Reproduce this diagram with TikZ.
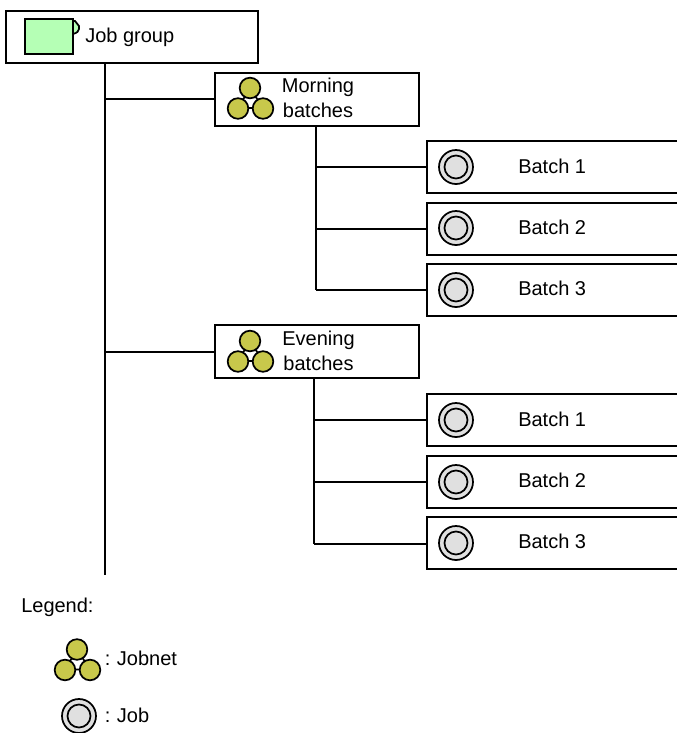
\documentclass[tikz,border=0pt]{standalone}
\usepackage{fontspec}
\setmainfont{Liberation Sans}
\definecolor{jobnetfill}{HTML}{C8C84B}
\definecolor{jobfill}{HTML}{E0E0E0}
\definecolor{groupfill}{HTML}{B5FFB5}
\tikzset{
  x=0.75pt,y=-0.75pt,
  every node/.style={font=\fontsize{15}{18.75}\selectfont,text=black,inner sep=0pt},
  treebox/.style={draw=black,line width=1.5pt,fill=white,rectangle,anchor=north west,outer sep=0pt},
  wire/.style={draw=black,line width=1.5pt},
  iconline/.style={draw=black,line width=1.3pt},
  pics/jobnet/.style={code={
    \draw[iconline] (0,0) -- (-12,20) -- (13,20) -- cycle;
    \draw[iconline,fill=jobnetfill] (0,0) circle[radius=10.3];
    \draw[iconline,fill=jobnetfill] (-12,20.5) circle[radius=10.3];
    \draw[iconline,fill=jobnetfill] (13,20.5) circle[radius=10.3];
  }},
  pics/job/.style={code={
    \draw[iconline,fill=jobfill] (0,0) circle[radius=17];
    \draw[iconline,fill=jobfill] (0,0) circle[radius=11.5];
  }},
}
\begin{document}
\begin{tikzpicture}
\useasboundingbox (0,0) rectangle (676,733);
% boxes
\node[treebox,minimum width=252.5*0.75pt,minimum height=52*0.75pt] (jg) at (5.5,10.5) {};
\node[treebox,minimum width=204*0.75pt,minimum height=53*0.75pt] (mb) at (214.5,72.5) {};
\node[treebox,minimum width=204*0.75pt,minimum height=53*0.75pt] (eb) at (214.5,325) {};
\foreach \n/\t/\h in {m1/140.5/52.5,m2/202.5/52,m3/263.5/52.5,e1/393.5/52.5,e2/455.5/52,e3/516.5/52.5}{
  \node[treebox,minimum width=256*0.75pt,minimum height=\h*0.75pt] (\n) at (426.5,\t) {};
}
% connector anchors
\coordinate (trunktop) at (105,63);
\coordinate (trunkend) at (105,575);
\coordinate (mtop) at (316,125);
\coordinate (mend) at (316,290);
\coordinate (etop) at (314,378);
\coordinate (eend) at (314,543.5);
\draw[wire] (trunktop) -- (trunkend);
\draw[wire] (trunktop |- mb.west) -- (mb.west);
\draw[wire] (trunktop |- eb.west) -- (eb.west);
\draw[wire] (mtop) -- (mend);
\draw[wire] (etop) -- (eend);
\draw[wire] (mtop |- m1.west) -- (m1.west);
\draw[wire] (mtop |- m2.west) -- (m2.west);
\draw[wire] (mend -| mtop) -- (mend -| m3.west);
\draw[wire] (etop |- e1.west) -- (e1.west);
\draw[wire] (etop |- e2.west) -- (e2.west);
\draw[wire] (eend -| etop) -- (eend -| e3.west);
% job group icon
\draw[iconline,fill=groupfill] (73,21) -- (75,21) -- (79,26) -- (79,29) .. controls (79,31) and (77,33) .. (73,34) -- cycle;
\draw[iconline,fill=groupfill] (25,19) rectangle (73,54);
% jobnet icons
\pic at (250,88) {jobnet};
\pic at (250,341) {jobnet};
\pic at (77,649.5) {jobnet};
% job icons
\foreach \y in {167,228,290,420,482,543}{ \pic at (456,\y) {job}; }
\pic at (79,716) {job};
% texts
\node[anchor=west] (t0) at (85,37.5) {Job group};
\node[align=center] (t1) at (318,97.5) {Morning\\batches};
\node[align=center] (t2) at (318.5,350.5) {Evening\\batches};
\node[anchor=west] (b1) at (518,166) {Batch 1};
\node[anchor=west] (b2) at (518,227) {Batch 2};
\node[anchor=west] (b3) at (518,288.5) {Batch 3};
\node[anchor=west] (b4) at (518,419) {Batch 1};
\node[anchor=west] (b5) at (518,480) {Batch 2};
\node[anchor=west] (b6) at (518,541) {Batch 3};
\node[anchor=west] (leg) at (21,607) {Legend:};
\node[anchor=west] (lj) at (104.5,658) {:\hspace{0.33em}Jobnet};
\node[anchor=west] (lb) at (104.5,715) {:\hspace{0.33em}Job};
\end{tikzpicture}
\end{document}
